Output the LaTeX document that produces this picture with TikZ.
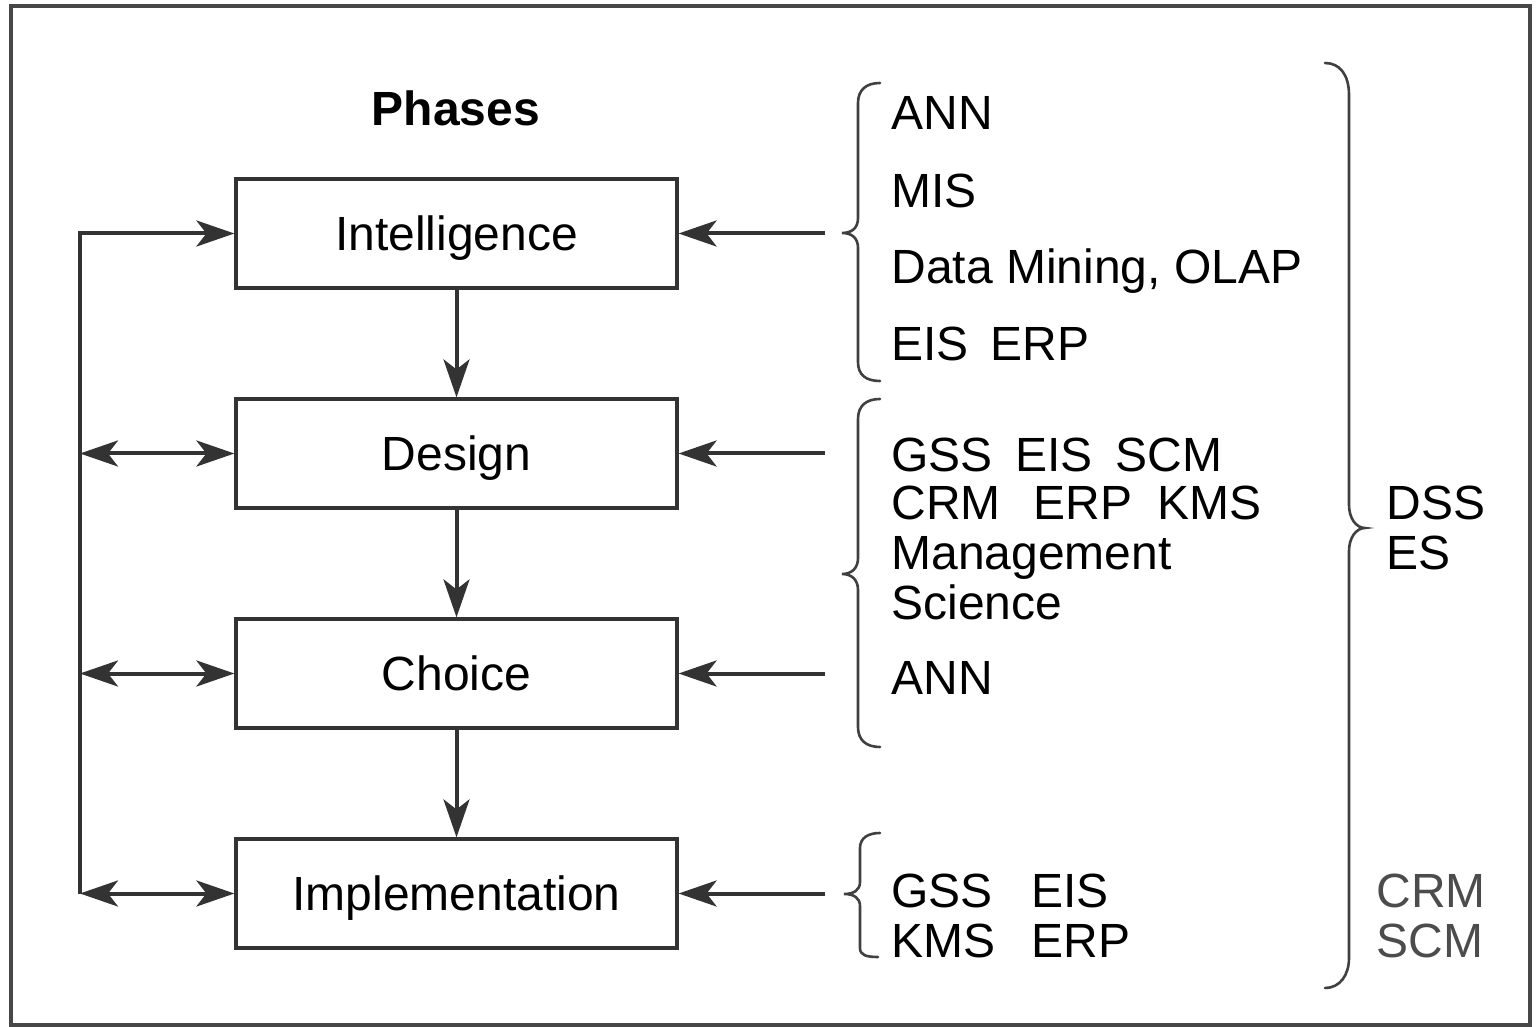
\documentclass[tikz,border=0pt]{standalone}
\usepackage{fontspec}
\setmainfont{Liberation Sans}
\usetikzlibrary{arrows.meta}
\begin{document}
\begin{tikzpicture}[x=0.5pt,y=-0.5pt,
  ln/.style={draw=black!80, line width=2pt},
  tip/.tip={Stealth[length=19pt,width=13pt,inset=5pt]},
  arr/.style={ln, -tip},
  darr/.style={ln, tip-tip},
  phase/.style={draw=black!80, line width=1.6pt, minimum width=220.5pt, minimum height=54.5pt,
    inner sep=0pt, text height=17.2pt, text depth=0pt, font=\fontsize{24}{28}\selectfont},
  lbl/.style={anchor=base west, inner sep=0pt, font=\fontsize{24}{28}\selectfont},
  glbl/.style={lbl, text=black!70},
  brc/.style={draw=black!75, line width=1.3pt, line cap=round},
]
\useasboundingbox (0,0) rectangle (1539,1027);
\draw[draw=black!72, line width=2.2pt] (11,6) rectangle (1530,1025);

% title
\node[anchor=base, inner sep=0pt, font=\fontsize{24}{28}\selectfont\bfseries] (title) at (456,126) {Phases};

% phase boxes
\node[phase] (int) at (456.5,233.5) {Intelligence};
\node[phase] (des) at (456.5,453.5) {Design};
\node[phase] (cho) at (456.5,673.5) {Choice};
\node[phase] (imp) at (456.5,893.5) {Implementation};

% left feedback line
\coordinate (L1) at (80,233.5);
\coordinate (L2) at (80,453.5);
\coordinate (L3) at (80,673.5);
\coordinate (L4) at (80,893.5);
\draw[arr] (L4) -- (L1) -- (int.west);
\draw[darr] (L2) -- (des.west);
\draw[darr] (L3) -- (cho.west);
\draw[darr] (L4) -- (imp.west);

% downward flow
\draw[arr] (int.south) -- (des.north);
\draw[arr] (des.south) -- (cho.north);
\draw[arr] (cho.south) -- (imp.north);

% inputs from the right
\coordinate (R1) at (825,233.5);
\coordinate (R2) at (825,453.5);
\coordinate (R3) at (825,673.5);
\coordinate (R4) at (825,893.5);
\draw[arr] (R1) -- (int.east);
\draw[arr] (R2) -- (des.east);
\draw[arr] (R3) -- (cho.east);
\draw[arr] (R4) -- (imp.east);

% braces
\draw[brc] (880,83) .. controls (866,83) and (858,90) .. (858,103) -- (858,218)
  .. controls (858,228) and (852,233) .. (842,233)
  .. controls (852,233) and (858,238) .. (858,248) -- (858,362)
  .. controls (858,375) and (866,381) .. (880,381);
\draw[brc] (880,399) .. controls (866,399) and (858,406) .. (858,419) -- (858,558)
  .. controls (858,568) and (852,574) .. (842,574)
  .. controls (852,574) and (858,580) .. (858,590) -- (858,727)
  .. controls (858,740) and (866,747) .. (880,747);
\draw[brc] (880,833) .. controls (868,833) and (860,838) .. (860,848) -- (860,882)
  .. controls (860,890) and (854,894) .. (844,894)
  .. controls (854,894) and (860,898) .. (860,906) -- (860,948)
  .. controls (860,955) and (866,957) .. (878,957);
\draw[brc] (1325,63) .. controls (1340,63) and (1349,75) .. (1349,95) -- (1349,505)
  .. controls (1349,518) and (1356,528) .. (1365,528)
  .. controls (1356,528) and (1349,538) .. (1349,551) -- (1349,958)
  .. controls (1349,975) and (1340,988) .. (1325,988);

% labels, group 1
\node[lbl] (a1) at (891,130) {ANN};
\node[lbl] (a2) at (891,208) {MIS};
\node[lbl] (a3) at (891,284) {Data Mining, OLAP};
\node[lbl] (a4) at (891,361) {EIS};
\node[lbl] (a5) at (990,361) {ERP};

% group 2
\node[lbl] (b1) at (891,472) {GSS};
\node[lbl] (b2) at (1015,472) {EIS};
\node[lbl] (b3) at (1115,472) {SCM};
\node[lbl] (b4) at (891,520) {CRM};
\node[lbl] (b5) at (1033,520) {ERP};
\node[lbl] (b6) at (1157,520) {KMS};
\node[lbl] (b7) at (891,569) {Management};
\node[lbl] (b8) at (891,619) {Science};
\node[lbl] (b9) at (891,694) {ANN};

% group 3
\node[lbl] (c1) at (891,907) {GSS};
\node[lbl] (c2) at (1031,907) {EIS};
\node[lbl] (c3) at (891,957) {KMS};
\node[lbl] (c4) at (1031,957) {ERP};

% overall
\node[lbl] (d1) at (1386,520) {DSS};
\node[lbl] (d2) at (1386,570) {ES};
\node[glbl] (d3) at (1376,907) {CRM};
\node[glbl] (d4) at (1376,957) {SCM};
\end{tikzpicture}
\end{document}
